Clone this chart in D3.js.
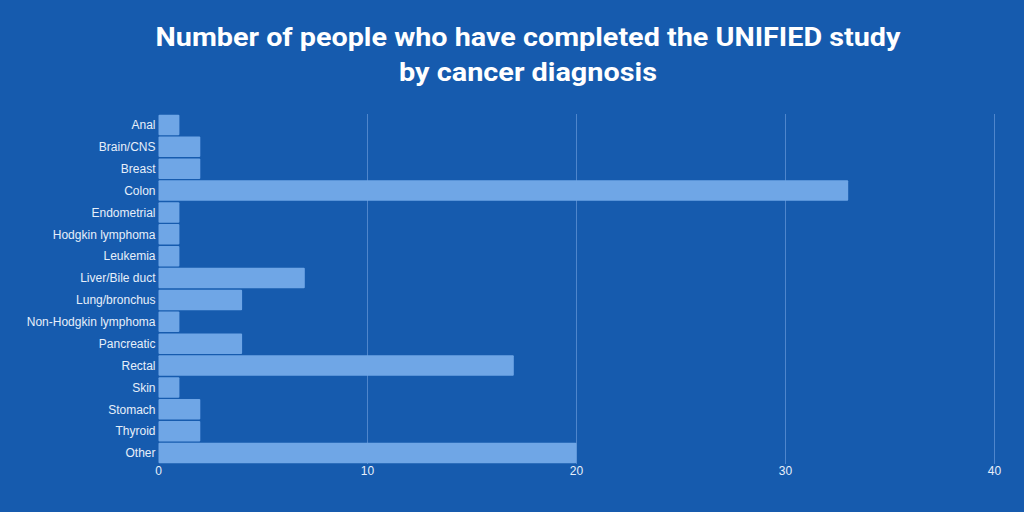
<!DOCTYPE html>
<html>
<head>
<meta charset="utf-8">
<script src="https://d3js.org/d3.v7.min.js"></script>
<style>
  body { margin: 0; background: #165bae; }
  svg { display: block; }
  .title { font-family: Roboto, "Liberation Sans", sans-serif; font-weight: bold; fill: #ffffff; }
  .lbl { font-family: "Liberation Sans", Arial, sans-serif; font-size: 12px; fill: #e6effa; }
</style>
</head>
<body>
<script>
  // data
  var categories = ["Anal", "Brain/CNS", "Breast", "Colon", "Endometrial", "Hodgkin lymphoma",
    "Leukemia", "Liver/Bile duct", "Lung/bronchus", "Non-Hodgkin lymphoma", "Pancreatic",
    "Rectal", "Skin", "Stomach", "Thyroid", "Other"];
  var counts = [1, 2, 2, 33, 1, 1, 1, 7, 4, 1, 4, 17, 1, 2, 2, 20];
  var xTicks = [0, 10, 20, 30, 40];
  var titleLines = ["Number of people who have completed the UNIFIED study", "by cancer diagnosis"];

  var width = 1024, height = 512,
      margin = {left: 158.5, right: 30, top: 114, bottom: 48};

  var svg = d3.select("body").append("svg")
      .attr("width", width)
      .attr("height", height);

  svg.append("rect").attr("width", width).attr("height", height).attr("fill", "#165bae");

  // title
  svg.selectAll("text.title")
      .data(titleLines)
      .enter().append("text")
      .attr("class", "title")
      .attr("x", 528)
      .attr("y", function(d, i) { return 46 + i * 35; })
      .attr("text-anchor", "middle")
      .style("font-size", "26px")
      .attr("textLength", function(d, i) { return i == 0 ? 745 : 258; })
      .attr("lengthAdjust", "spacingAndGlyphs")
      .text(function(d) { return d; });

  var x = d3.scaleLinear().domain([0, 40]).range([margin.left, 994.5]);
  var y = d3.scaleBand().domain(categories)
      .range([margin.top, height - margin.bottom])
      .paddingInner(0.06).paddingOuter(0.03);

  // grid
  svg.append("g").selectAll("line")
      .data(xTicks.slice(1))
      .enter().append("line")
      .attr("x1", function(d) { return x(d); })
      .attr("x2", function(d) { return x(d); })
      .attr("y1", margin.top)
      .attr("y2", height - margin.bottom)
      .attr("stroke", "#4f86cc")
      .attr("stroke-width", 1);

  // bars
  svg.append("g").selectAll("rect")
      .data(counts)
      .enter().append("rect")
      .attr("x", x(0))
      .attr("y", function(d, i) { return y(categories[i]); })
      .attr("width", function(d) { return x(d) - x(0); })
      .attr("height", y.bandwidth())
      .attr("rx", 1)
      .attr("fill", "#6fa6e6");

  // category labels
  svg.append("g").selectAll("text")
      .data(categories)
      .enter().append("text")
      .attr("class", "lbl")
      .attr("x", margin.left - 3)
      .attr("y", function(d) { return y(d) + y.bandwidth() / 2; })
      .attr("dy", "0.35em")
      .attr("text-anchor", "end")
      .text(function(d) { return d; });

  // x tick labels
  svg.append("g").selectAll("text")
      .data(xTicks)
      .enter().append("text")
      .attr("class", "lbl")
      .attr("x", function(d) { return x(d); })
      .attr("y", 475)
      .attr("text-anchor", "middle")
      .text(function(d) { return d; });
</script>
</body>
</html>
